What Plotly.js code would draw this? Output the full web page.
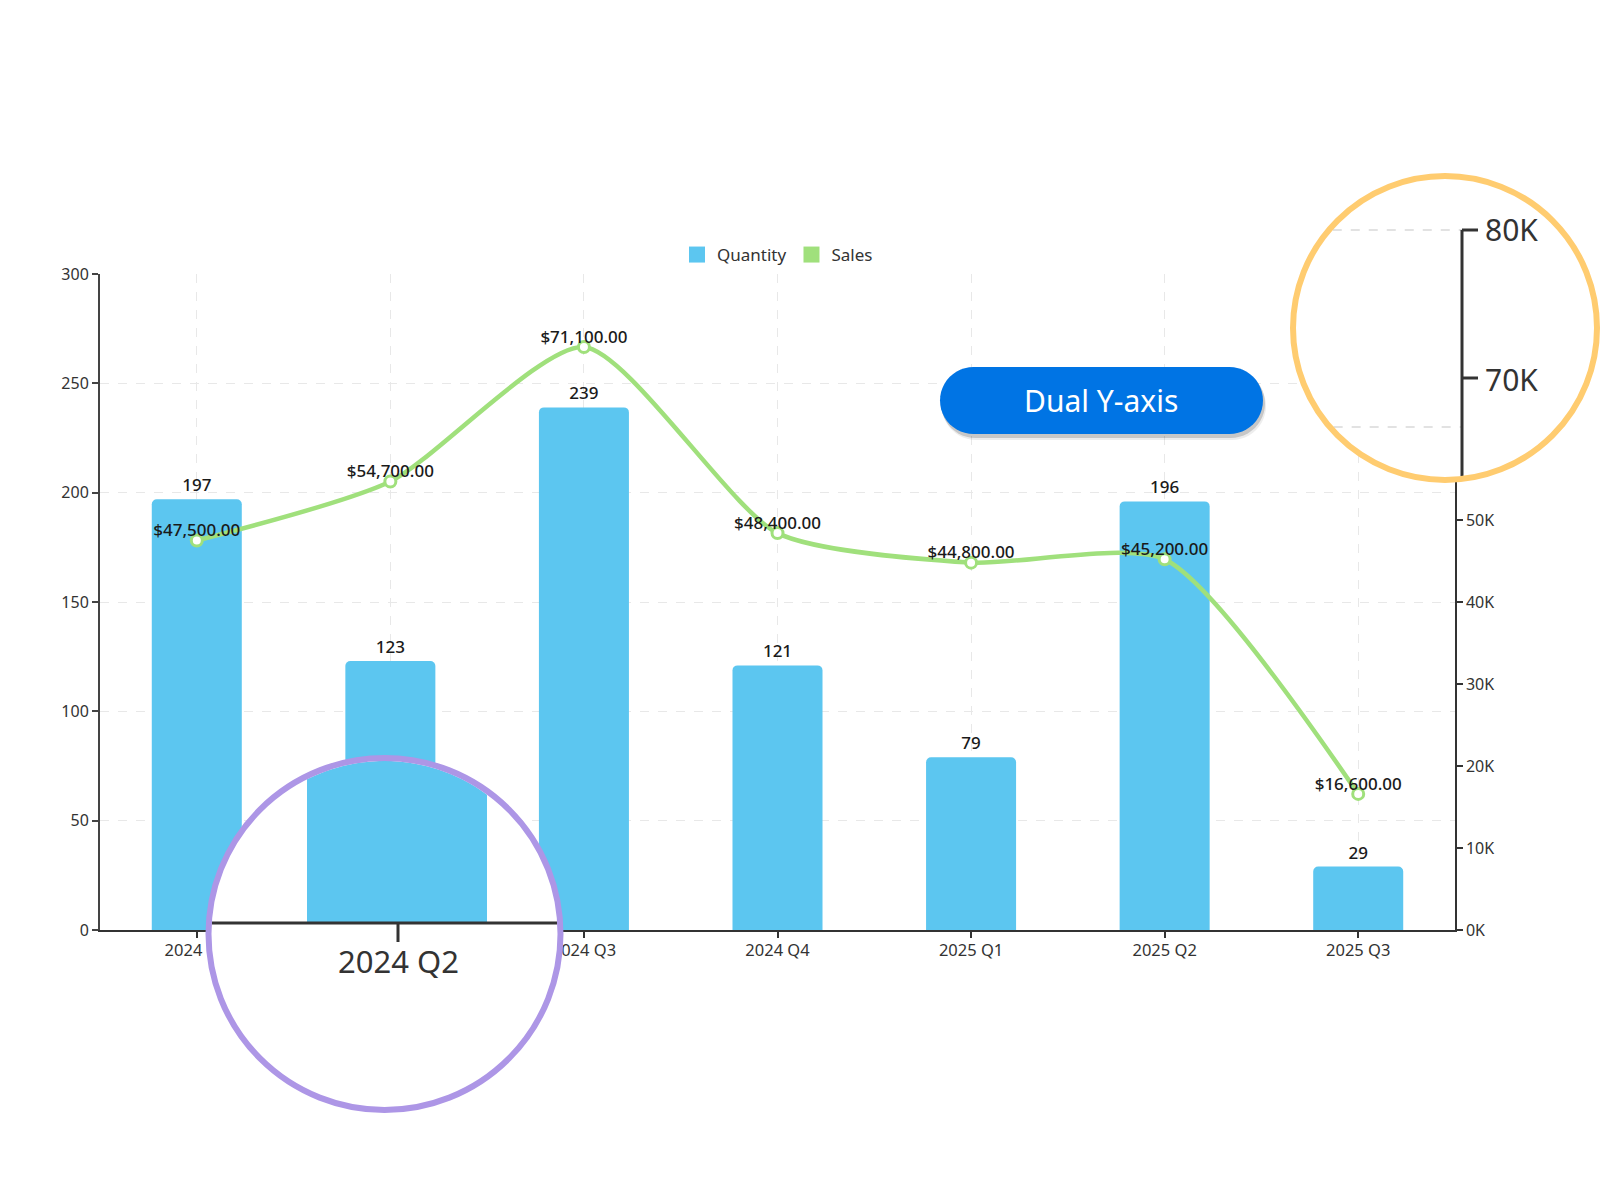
<!DOCTYPE html>
<html>
<head>
<meta charset="utf-8">
<script src="https://cdn.plot.ly/plotly-3.0.1.min.js"></script>
<style>
  html, body { margin: 0; padding: 0; background: #fff; }
  #chart { width: 1600px; height: 1200px; }
</style>
</head>
<body>
<div id="chart"></div>
<script>
// data
var quarters = ['2024 Q1', '2024 Q2', '2024 Q3', '2024 Q4', '2025 Q1', '2025 Q2', '2025 Q3'];
var quantity = [197, 123, 239, 121, 79, 196, 29];
var sales = [47500, 54700, 71100, 48400, 44800, 45200, 16600];
// 60K-80K sit under the right magnifier, so only the visible ticks are listed
var salesTicks = [0, 10000, 20000, 30000, 40000, 50000];

var blue = '#5cc6f0';
var green = '#a0e07c';
var font = '"Noto Sans", "Open Sans", sans-serif';

// page geometry (pixels) -> paper coords
var W = 1600, H = 1200, L = 100, R = 145, T = 274, B = 270;
var plotW = W - L - R, plotH = H - T - B;
function px(x) { return (x - L) / plotW; }
function py(y) { return (H - B - y) / plotH; }
function pathOf(pts) {
  return 'M' + pts.map(function (p) { return px(p[0]).toFixed(5) + ',' + py(p[1]).toFixed(5); }).join(' L') + ' Z';
}
function arc(cx, cy, r, a0, a1, n) {
  var pts = [];
  for (var i = 0; i <= n; i++) {
    var a = (a0 + (a1 - a0) * i / n) * Math.PI / 180;
    pts.push([cx + r * Math.cos(a), cy + r * Math.sin(a)]);
  }
  return pts;
}
function circle(cx, cy, r, line, fill) {
  return {
    type: 'circle', xref: 'paper', yref: 'paper', layer: 'above',
    x0: px(cx - r), x1: px(cx + r), y0: py(cy + r), y1: py(cy - r),
    fillcolor: fill || 'rgba(0,0,0,0)', line: line
  };
}
function seg(x0, y0, x1, y1, line) {
  return { type: 'line', xref: 'paper', yref: 'paper', layer: 'above',
    x0: px(x0), y0: py(y0), x1: px(x1), y1: py(y1), line: line };
}
function pill(x0, y0, x1, y1) {
  var r = (y1 - y0) / 2, cy = y0 + r;
  return arc(x0 + r, cy, r, 90, 270, 24).concat(arc(x1 - r, cy, r, 270, 450, 24));
}

// magnifier over the x axis (2024 Q2)
var mA = { cx: 384.5, cy: 934, r: 176 };
var barL = 307, barR = 487, baseY = 923, rin = mA.r - 3;
var barPts = [[barL, baseY]];
for (var i = 0; i <= 30; i++) {
  var x = barL + (barR - barL) * i / 30;
  barPts.push([x, mA.cy - Math.sqrt(rin * rin - Math.pow(x - mA.cx, 2))]);
}
barPts.push([barR, baseY]);
var chordA = Math.sqrt(rin * rin - Math.pow(baseY - mA.cy, 2));

// magnifier over the right axis top
var mB = { cx: 1445, cy: 328, r: 152 };
var axX = 1462, rinB = mB.r - 3;
function chordLeft(y) { return mB.cx - Math.sqrt(rinB * rinB - Math.pow(y - mB.cy, 2)); }
var axBottom = mB.cy + Math.sqrt(rinB * rinB - Math.pow(axX - mB.cx, 2));

var axisLine = { color: '#333', width: 3 };
var gridDash = { color: '#e2e2e2', width: 2, dash: 'dash' };

var shapes = [
  // pill shadow + pill
  { type: 'path', xref: 'paper', yref: 'paper', layer: 'above', path: pathOf(pill(942, 372, 1266, 440)),
    fillcolor: 'rgba(0,0,0,0.07)', line: { width: 0 } },
  { type: 'path', xref: 'paper', yref: 'paper', layer: 'above', path: pathOf(pill(941, 369, 1265, 438)),
    fillcolor: 'rgba(0,0,0,0.16)', line: { width: 0 } },
  { type: 'path', xref: 'paper', yref: 'paper', layer: 'above', path: pathOf(pill(940, 367, 1263, 434)),
    fillcolor: '#0074e4', line: { width: 0 } },

  // magnifier A
  circle(mA.cx, mA.cy, mA.r, { width: 0 }, '#ffffff'),
  { type: 'path', xref: 'paper', yref: 'paper', layer: 'above', path: pathOf(barPts),
    fillcolor: blue, line: { width: 0 } },
  seg(mA.cx - chordA, baseY, mA.cx + chordA, baseY, axisLine),
  seg(398, baseY, 398, 942, axisLine),
  circle(mA.cx, mA.cy, mA.r, { color: '#ad96e6', width: 6 }),

  // magnifier B
  circle(mB.cx, mB.cy, mB.r, { width: 0 }, '#ffffff'),
  seg(chordLeft(230), 230, axX, 230, gridDash),
  seg(chordLeft(427), 427, axX, 427, gridDash),
  seg(axX, 230, axX, axBottom, axisLine),
  seg(axX, 230, 1478, 230, axisLine),
  seg(axX, 378, 1478, 378, axisLine),
  circle(mB.cx, mB.cy, mB.r, { color: '#ffcc70', width: 6 })
];

var annotations = [
  { xref: 'paper', yref: 'paper', x: px(1101), y: py(400), text: 'Dual Y-axis', showarrow: false,
    font: { family: font, size: 30, color: '#ffffff' }, xanchor: 'center', yanchor: 'middle' },
  { xref: 'paper', yref: 'paper', x: px(398), y: py(961), text: '2024 Q2', showarrow: false,
    font: { family: font, size: 31, color: '#333' }, xanchor: 'center', yanchor: 'middle' },
  { xref: 'paper', yref: 'paper', x: px(1483), y: py(230), text: '80K', showarrow: false,
    font: { family: font, size: 30, color: '#333' }, xanchor: 'left', yanchor: 'middle' },
  { xref: 'paper', yref: 'paper', x: px(1483), y: py(379), text: '70K', showarrow: false,
    font: { family: font, size: 30, color: '#333' }, xanchor: 'left', yanchor: 'middle' }
];

var labelFont = { family: font, size: 17, color: '#1a1a1a', weight: 500 };
var nothing = quarters.map(function () { return null; });

var data = [{
  // legend swatches (square markers, nothing drawn on the plot)
  type: 'scatter', mode: 'markers', name: 'Quantity', x: quarters, y: nothing,
  legendgroup: 'qty', marker: { symbol: 'square', size: 16, color: blue }, hoverinfo: 'skip'
}, {
  type: 'scatter', mode: 'markers', name: 'Sales', x: quarters, y: nothing, yaxis: 'y2',
  legendgroup: 'sales', marker: { symbol: 'square', size: 16, color: green }, hoverinfo: 'skip'
}, {
  type: 'bar',
  name: 'Quantity',
  x: quarters,
  y: quantity,
  width: 0.465,
  legendgroup: 'qty',
  showlegend: false,
  marker: { color: blue, cornerradius: 5 },
  text: quantity.map(String),
  textposition: 'outside',
  cliponaxis: false,
  textfont: labelFont,
  hoverinfo: 'x+y'
}, {
  type: 'scatter',
  name: 'Sales',
  x: quarters,
  y: sales,
  yaxis: 'y2',
  mode: 'lines+markers',
  legendgroup: 'sales',
  showlegend: false,
  line: { color: green, width: 4.5, shape: 'spline', smoothing: 0.65 },
  marker: { size: 11, color: '#ffffff', line: { color: green, width: 3 } },
  cliponaxis: false
}, {
  type: 'scatter',
  name: 'Sales',
  x: quarters,
  y: sales,
  yaxis: 'y2',
  mode: 'text',
  legendgroup: 'sales',
  showlegend: false,
  texttemplate: '$%{y:,.2f}',
  textposition: 'top center',
  textfont: labelFont,
  hoverinfo: 'skip',
  cliponaxis: false
}];

var layout = {
  width: W,
  height: H,
  margin: { l: L, r: R, t: T, b: B, pad: 0 },
  paper_bgcolor: '#ffffff',
  plot_bgcolor: '#ffffff',
  font: { family: font, size: 16, color: '#333' },
  showlegend: true,
  legend: {
    orientation: 'h', x: 0.5, xanchor: 'center', y: py(255), yanchor: 'middle',
    font: { family: font, size: 17, color: '#333' }, traceorder: 'normal', itemsizing: 'trace'
  },
  xaxis: {
    type: 'category',
    // the Q2 label is hidden under the left magnifier
    tickvals: quarters,
    ticktext: quarters.map(function (q) { return q === '2024 Q2' ? '' : q; }),
    showline: true, linecolor: '#333', linewidth: 1.5,
    ticks: 'outside', ticklen: 6, tickcolor: '#333', tickwidth: 1.5,
    ticklabelstandoff: -2,
    showgrid: true, gridcolor: '#e8e8e8', griddash: 'dash', gridwidth: 1,
    tickfont: { size: 16.5, color: '#333' }
  },
  yaxis: {
    range: [0, 300], dtick: 50,
    showline: true, linecolor: '#444', linewidth: 2,
    ticks: 'outside', ticklen: 6, tickcolor: '#444', tickwidth: 1.5,
    showgrid: true, gridcolor: '#e8e8e8', griddash: 'dash', gridwidth: 1,
    zeroline: false,
    tickfont: { size: 16, color: '#333' }
  },
  yaxis2: {
    overlaying: 'y', side: 'right',
    range: [0, 80000],
    tickvals: salesTicks,
    ticktext: salesTicks.map(function (v) { return (v / 1000) + 'K'; }),
    showline: true, linecolor: '#333', linewidth: 1.5,
    ticks: 'outside', ticklen: 6, tickcolor: '#333', tickwidth: 1.5,
    showgrid: false, zeroline: false,
    tickfont: { size: 16, color: '#333' }
  },
  bargap: 0.5,
  shapes: shapes,
  annotations: annotations
};

Plotly.newPlot('chart', data, layout, { displayModeBar: false });
</script>
</body>
</html>
